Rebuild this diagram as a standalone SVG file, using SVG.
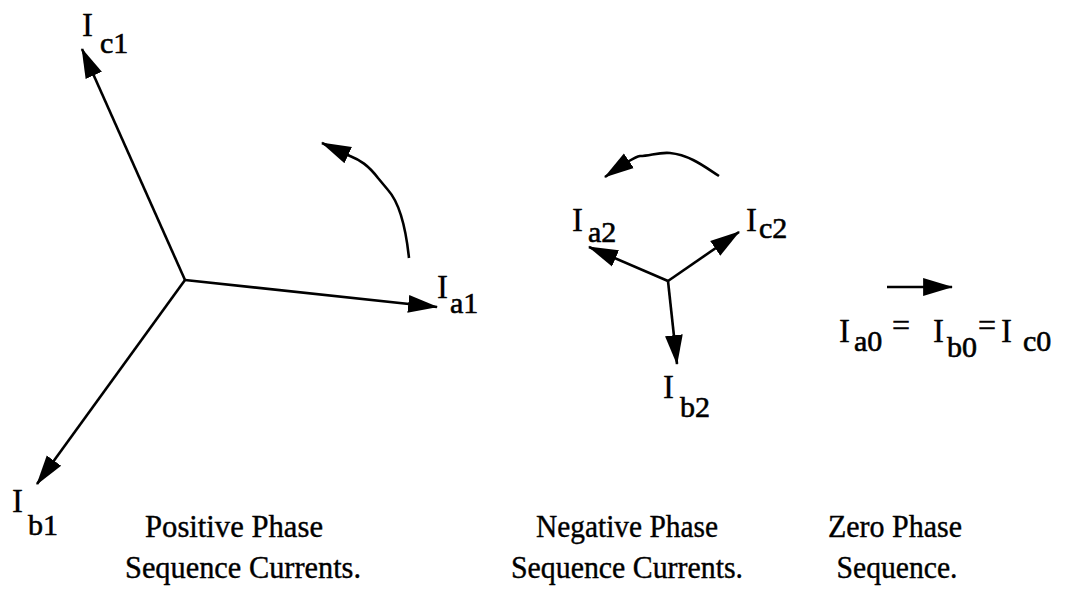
<svg xmlns="http://www.w3.org/2000/svg" width="1065" height="592" viewBox="0 0 1065 592">
<style>
.v{stroke:#000;stroke-width:2.6;fill:none;marker-end:url(#ah)}
.I{font-family:"Liberation Serif","Times New Roman",serif;font-size:33px;fill:#000;stroke:#000;stroke-width:0.3}
.s{font-family:"Liberation Serif","Times New Roman",serif;font-size:30px;fill:#000;stroke:#000;stroke-width:0.6}
.eq{font-family:"Liberation Serif","Times New Roman",serif;font-size:32px;fill:#000;stroke:#000;stroke-width:0.5}
.cap{font-family:"Liberation Serif","Times New Roman",serif;font-size:32px;fill:#000;stroke:#000;stroke-width:0.4;text-anchor:middle}
</style>
<defs>
<marker id="ah" markerUnits="userSpaceOnUse" markerWidth="30" markerHeight="20" viewBox="0 0 27 16" refX="26" refY="8" orient="auto">
<path d="M0,0 L27,8 L0,16 Z" fill="#000"/>
</marker>
</defs>
<rect width="1065" height="592" fill="#fff"/>
<g id="connectors">
<line class="v" x1="185" y1="280" x2="82" y2="49"/>
<line class="v" x1="185" y1="280" x2="437" y2="307"/>
<line class="v" x1="185" y1="280" x2="37" y2="484"/>
<path class="v" d="M409,258 C405,220 397,200 388,190 L378,178 C368,165 360,160 350,156 L322,143"/>
<line class="v" x1="668" y1="281" x2="589" y2="247"/>
<line class="v" x1="668" y1="281" x2="739" y2="232"/>
<line class="v" x1="668" y1="281" x2="677" y2="364"/>
<path class="v" d="M719,176 C705,167 690,155 670,153 C658,152 650,156 640,156 C635,157 630,160 605,177"/>
<line class="v" x1="887" y1="287" x2="952" y2="287"/>
</g>
<g id="Ic1"><text class="I" x="82" y="36">I</text><text class="s" x="100" y="53">c1</text></g>
<g id="Ia1"><text class="I" x="437" y="298">I</text><text class="s" x="450" y="313">a1</text></g>
<g id="Ib1"><text class="I" x="12" y="512">I</text><text class="s" x="28" y="535">b1</text></g>
<g id="Ia2"><text class="I" x="572" y="231">I</text><text class="s" x="588" y="242">a2</text></g>
<g id="Ic2"><text class="I" x="746" y="231">I</text><text class="s" x="759" y="238">c2</text></g>
<g id="Ib2"><text class="I" x="663" y="398">I</text><text class="s" x="680" y="417">b2</text></g>
<g id="zero-eq">
<text class="I" x="839" y="342">I</text><text class="s" x="854" y="351">a0</text>
<text class="eq" x="892" y="336">=</text>
<text class="I" x="933" y="342">I</text><text class="s" x="947" y="357">b0</text>
<text class="eq" x="978" y="336">=</text>
<text class="I" x="1001" y="342">I</text><text class="s" x="1023" y="351">c0</text>
</g>
<g id="positive-caption"><text class="cap" x="234" y="537" textLength="178" lengthAdjust="spacingAndGlyphs">Positive Phase</text><text class="cap" x="243" y="578" textLength="236" lengthAdjust="spacingAndGlyphs">Sequence Currents.</text></g>
<g id="negative-caption"><text class="cap" x="627" y="537" textLength="182" lengthAdjust="spacingAndGlyphs">Negative Phase</text><text class="cap" x="627" y="578" textLength="232" lengthAdjust="spacingAndGlyphs">Sequence Currents.</text></g>
<g id="zero-caption"><text class="cap" x="895" y="537" textLength="134" lengthAdjust="spacingAndGlyphs">Zero Phase</text><text class="cap" x="897" y="578" textLength="121" lengthAdjust="spacingAndGlyphs">Sequence.</text></g>
</svg>
